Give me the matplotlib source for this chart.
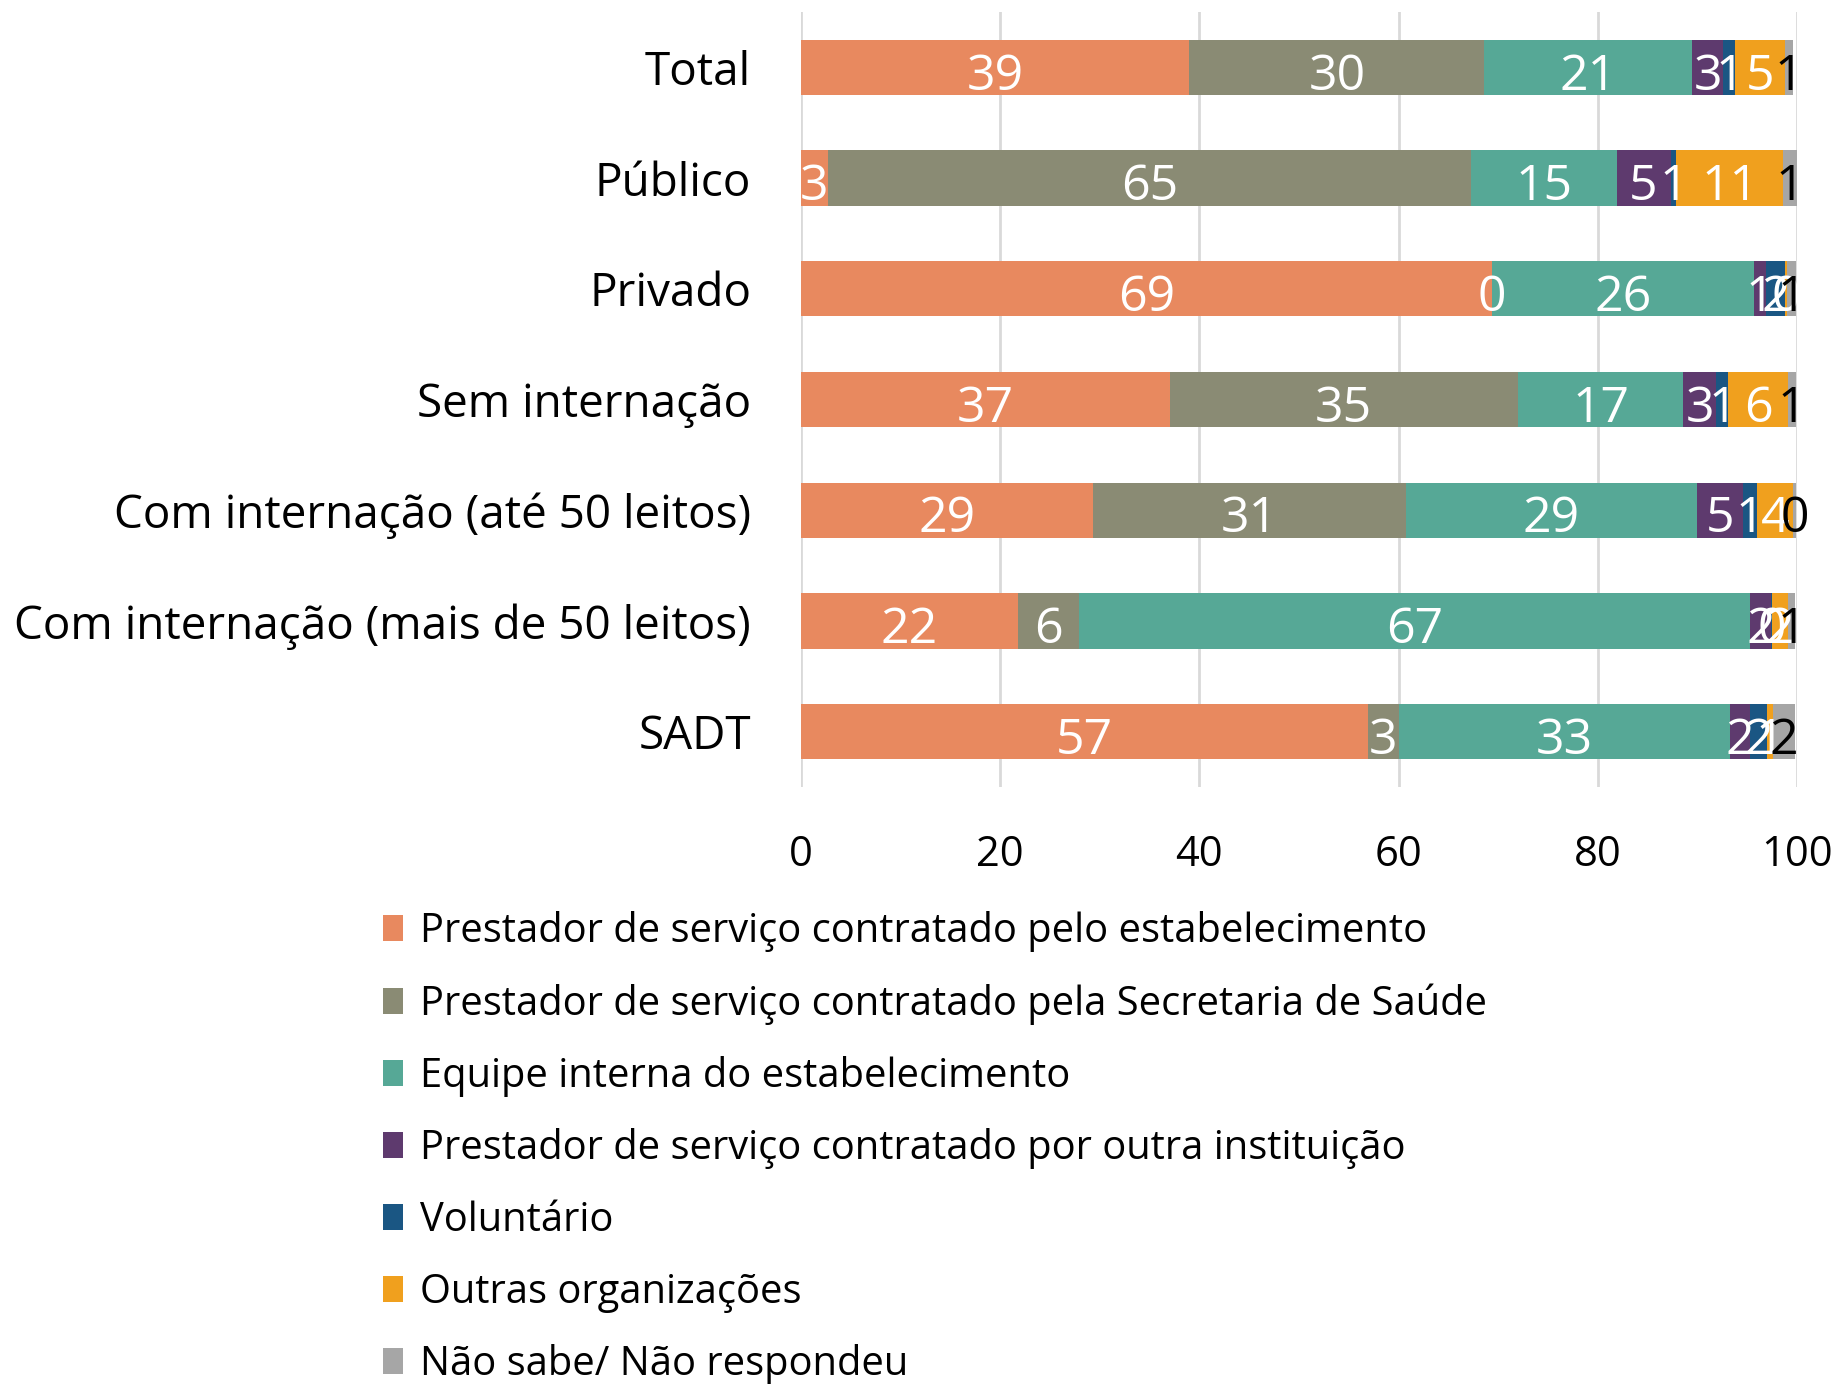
import matplotlib
matplotlib.use("Agg")
import matplotlib.pyplot as plt
import numpy as np

categories = ["Total", "Público", "Privado", "Sem internação",
              "Com internação (até 50 leitos)", "Com internação (mais de 50 leitos)", "SADT"]
series_names = ["Prestador de serviço contratado pelo estabelecimento",
                "Prestador de serviço contratado pela Secretaria de Saúde",
                "Equipe interna do estabelecimento",
                "Prestador de serviço contratado por outra instituição",
                "Voluntário",
                "Outras organizações",
                "Não sabe/ Não respondeu"]
estabelecimento = [39.0, 2.7, 69.4, 37.0, 29.3, 21.8, 56.9]
secretaria = [29.6, 64.6, 0.0, 35.0, 31.4, 6.1, 3.1]
equipe_interna = [20.9, 14.6, 26.3, 16.6, 29.3, 67.4, 33.3]
outra_instituicao = [3.1, 5.4, 1.2, 3.3, 4.6, 2.1, 2.0]
voluntario = [1.2, 0.6, 1.9, 1.2, 1.4, 0.1, 1.7]
outras_org = [5.0, 10.7, 0.2, 6.0, 3.6, 1.6, 0.6]
nao_sabe = [0.8, 1.4, 0.9, 0.8, 0.3, 0.7, 2.2]
xticks = [0, 20, 40, 60, 80, 100]

series = [estabelecimento, secretaria, equipe_interna, outra_instituicao,
          voluntario, outras_org, nao_sabe]
colors = ["#E8895F", "#8A8B74", "#56A896", "#5E3A6E", "#1A5683", "#F0A01E", "#A6A6A6"]
label_colors = ["white"] * 6 + ["black"]

FONT = ["Open Sans", "DejaVu Sans"]
plt.rcParams["font.family"] = FONT

W, H = 1837, 1384
fig = plt.figure(figsize=(W / 100, H / 100), dpi=100)
ax = fig.add_axes([801 / W, 1 - 787 / H, (1797 - 801) / W, (787 - 12) / H])

y = np.arange(len(categories))
left = np.zeros(len(categories))
for name, vals, c, lc in zip(series_names, series, colors, label_colors):
    vals = np.array(vals, dtype=float)
    ax.barh(y, vals, left=left, height=0.5, color=c, label=name, zorder=3)
    for yi, (l, v) in enumerate(zip(left, vals)):
        ax.annotate(f"{v:.0f}", xy=(l + v / 2, yi), xytext=(0, -16),
                    textcoords="offset points", ha="center", va="baseline",
                    color=lc, fontsize=36, zorder=4)
    left += vals

ax.set_ylim(len(categories) - 0.5, -0.5)
ax.set_xlim(0, 100)
ax.set_xticks(xticks)
ax.set_yticks(y)
ax.set_yticklabels(categories, fontsize=33)
ax.tick_params(axis="x", labelsize=30, length=0, pad=34)
ax.tick_params(axis="y", length=0, pad=36)
for s in ax.spines.values():
    s.set_visible(False)
ax.grid(axis="x", color="#D9D9D9", linewidth=2, zorder=0)
ax.set_axisbelow(True)

handles, labels = ax.get_legend_handles_labels()
leg = fig.legend(handles, labels, loc="upper left", bbox_to_anchor=(383 / W, 1 - 911 / H),
                 frameon=False, fontsize=28.7, handlelength=0.5, handleheight=0.63,
                 handletextpad=0.42, labelspacing=0.785, borderaxespad=0, borderpad=0)

fig.savefig("out.png", dpi=100, facecolor="white")
